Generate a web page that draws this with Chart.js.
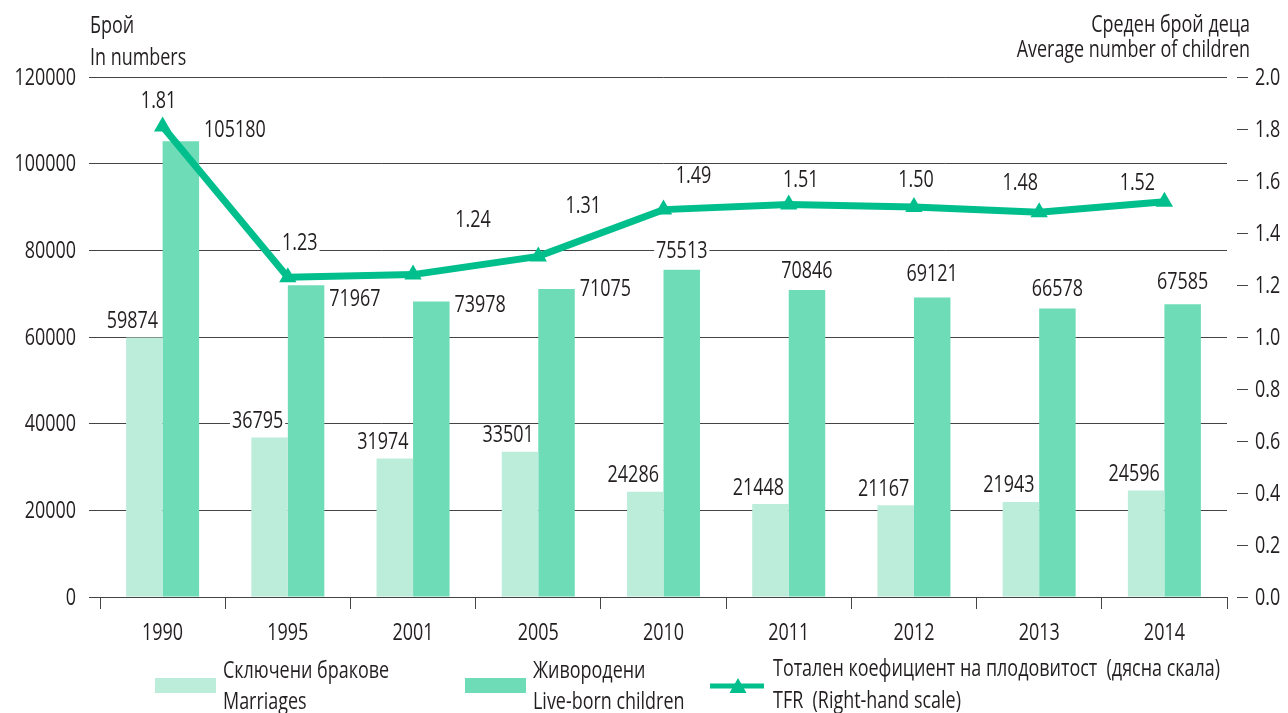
<!DOCTYPE html>
<html>
<head>
<meta charset="utf-8">
<script src="https://cdn.jsdelivr.net/npm/chart.js@4.4.1/dist/chart.umd.min.js"></script>
<style>
  html, body { margin: 0; padding: 0; background: #fff; }
  #wrap { width: 1288px; height: 713px; }
</style>
</head>
<body>
<div id="wrap"><canvas id="chart" width="1288" height="713"></canvas></div>
<script>
const years = ['1990', '1995', '2001', '2005', '2010', '2011', '2012', '2013', '2014'];
const marriages = [59874, 36795, 31974, 33501, 24286, 21448, 21167, 21943, 24596];
// bar heights as drawn (the 2001 bar is lower than its printed label)
const liveBorn = [105180, 71967, 68180, 71075, 75513, 70846, 69121, 66578, 67585];
const liveBornPrinted = ['105180', '71967', '73978', '71075', '75513', '70846', '69121', '66578', '67585'];
const tfr = [1.81, 1.23, 1.24, 1.31, 1.49, 1.51, 1.50, 1.48, 1.52];
const leftTicks = [0, 20000, 40000, 60000, 80000, 100000, 120000];
const rightTicks = [0, 0.2, 0.4, 0.6, 0.8, 1.0, 1.2, 1.4, 1.6, 1.8, 2.0];

// label nudges, [dx, dy] from bar top / point
const liveNudge = [[49, -12], [48, 13], [52, 3], [48, -1], [0, -19], [0, -20], [0, -24], [0, -20], [0, -23]];
const tfrNudge = [[-4, -26], [12, -35], [60, -55], [45, -51], [30, -34], [12, -25], [2, -28], [-19, -30], [-27, -19]];

const FAMILY = "'Open Sans', 'Noto Sans', sans-serif";
const FONT = '23px ' + FAMILY;
const SX = 0.78; // squeeze to mimic the condensed face
const TEXT = '#231f20';
const GRID = '#444444';
const LIGHT = '#bcecda';
const MID = '#6fdcb8';
const LINE = '#00bf8c';

Chart.defaults.font.family = FAMILY;
Chart.defaults.font.size = 22;

function txt(ctx, s, x, y, align, base) {
  ctx.save();
  ctx.font = FONT;
  ctx.fillStyle = TEXT;
  ctx.textAlign = align;
  ctx.textBaseline = base || 'middle';
  ctx.translate(x, y);
  ctx.scale(SX, 1);
  ctx.fillText(s, 0, 0);
  ctx.restore();
}

function label(ctx, s, x, y, align) {
  ctx.font = FONT;
  const w = ctx.measureText(s).width * SX;
  const left = align === 'left' ? x : x - w / 2;
  ctx.fillStyle = '#fff';
  ctx.fillRect(left - 2, y - 10, w + 4, 20);
  txt(ctx, s, left, y + 1, 'left');
}

const extras = {
  id: 'extras',
  afterDatasetsDraw(chart) {
    const ctx = chart.ctx;
    const sx = chart.scales.x, sy = chart.scales.y, sy1 = chart.scales.y1;

    // axis tick labels
    leftTicks.forEach(v => txt(ctx, String(v), 76, sy.getPixelForValue(v) + 1, 'right'));
    rightTicks.forEach(v => txt(ctx, v.toFixed(1), 1255, sy1.getPixelForValue(v) + 1, 'left'));
    years.forEach((y, i) => txt(ctx, y, sx.getPixelForValue(i), 633, 'center'));

    // data labels
    chart.getDatasetMeta(0).data.forEach((bar, i) => {
      label(ctx, String(marriages[i]), bar.x - 12, bar.y - 17, 'center');
    });
    chart.getDatasetMeta(1).data.forEach((bar, i) => {
      const n = liveNudge[i];
      if (n[0] !== 0) {
        label(ctx, liveBornPrinted[i], bar.x + bar.width / 2 + 5, bar.y + n[1], 'left');
      } else {
        label(ctx, liveBornPrinted[i], bar.x, bar.y + n[1], 'center');
      }
    });
    chart.getDatasetMeta(2).data.forEach((pt, i) => {
      const n = tfrNudge[i];
      label(ctx, tfr[i].toFixed(2), pt.x + n[0], pt.y + n[1], 'center');
    });

    // axis titles
    txt(ctx, 'Брой', 90, 33, 'left', 'alphabetic');
    txt(ctx, 'In numbers', 90, 65, 'left', 'alphabetic');
    txt(ctx, 'Среден брой деца', 1250, 32, 'right', 'alphabetic');
    txt(ctx, 'Average number of children', 1250, 57, 'right', 'alphabetic');

    // legend
    ctx.save();
    ctx.fillStyle = LIGHT;
    ctx.fillRect(155, 678, 61, 15);
    ctx.fillStyle = MID;
    ctx.fillRect(465, 678, 61, 15);
    ctx.strokeStyle = LINE;
    ctx.lineWidth = 5;
    ctx.beginPath();
    ctx.moveTo(710, 686);
    ctx.lineTo(764, 686);
    ctx.stroke();
    ctx.fillStyle = LINE;
    ctx.beginPath();
    ctx.moveTo(738, 678);
    ctx.lineTo(746.5, 693);
    ctx.lineTo(729.5, 693);
    ctx.closePath();
    ctx.fill();
    ctx.restore();

    txt(ctx, 'Сключени бракове', 223, 671, 'left');
    txt(ctx, 'Marriages', 223, 702, 'left');
    txt(ctx, 'Живородени', 533, 671, 'left');
    txt(ctx, 'Live-born children', 533, 702, 'left');
    txt(ctx, 'Тотален коефициент на плодовитост  (дясна скала)', 773, 669, 'left');
    txt(ctx, 'TFR  (Right-hand scale)', 773, 701, 'left');
  }
};

new Chart(document.getElementById('chart'), {
  type: 'bar',
  data: {
    labels: years,
    datasets: [
      {
        label: 'Сключени бракове / Marriages',
        data: marriages,
        backgroundColor: LIGHT,
        yAxisID: 'y',
        order: 2,
        categoryPercentage: 0.583,
        barPercentage: 1.0
      },
      {
        label: 'Живородени / Live-born children',
        data: liveBorn,
        backgroundColor: MID,
        yAxisID: 'y',
        order: 2,
        categoryPercentage: 0.583,
        barPercentage: 1.0
      },
      {
        type: 'line',
        label: 'Тотален коефициент на плодовитост / TFR',
        data: tfr,
        yAxisID: 'y1',
        borderColor: LINE,
        backgroundColor: LINE,
        borderWidth: 7,
        pointStyle: 'triangle',
        pointRadius: 10,
        pointBorderWidth: 0,
        pointBackgroundColor: LINE,
        tension: 0,
        order: 0
      }
    ]
  },
  options: {
    responsive: false,
    animation: false,
    layout: { padding: { top: 77, left: 0, right: 0, bottom: 0 } },
    plugins: { legend: { display: false }, tooltip: { enabled: false } },
    scales: {
      // tick text is hidden here and drawn squeezed by the plugin
      x: {
        offset: true,
        grid: { display: true, drawOnChartArea: false, offset: true, color: GRID, tickLength: 12 },
        border: { display: true, color: GRID },
        ticks: { padding: 12, color: 'rgba(0,0,0,0)' },
        afterFit(axis) { axis.height = 116; }
      },
      y: {
        position: 'left',
        min: 0,
        max: 120000,
        afterBuildTicks(axis) { axis.ticks = leftTicks.map(v => ({ value: v })); },
        grid: { color: GRID, tickLength: 11 },
        border: { display: false },
        ticks: { padding: 13, color: 'rgba(0,0,0,0)' },
        afterFit(axis) { axis.width = 100; }
      },
      y1: {
        position: 'right',
        min: 0,
        max: 2,
        afterBuildTicks(axis) { axis.ticks = rightTicks.map(v => ({ value: v })); },
        grid: { drawOnChartArea: false, color: GRID, tickLength: 21, tickBorderDash: [0, 10, 11, 0] },
        border: { display: false },
        ticks: { padding: 7, color: 'rgba(0,0,0,0)', callback: v => v.toFixed(1) },
        afterFit(axis) { axis.width = 61; }
      }
    }
  },
  plugins: [extras]
});
</script>
</body>
</html>
